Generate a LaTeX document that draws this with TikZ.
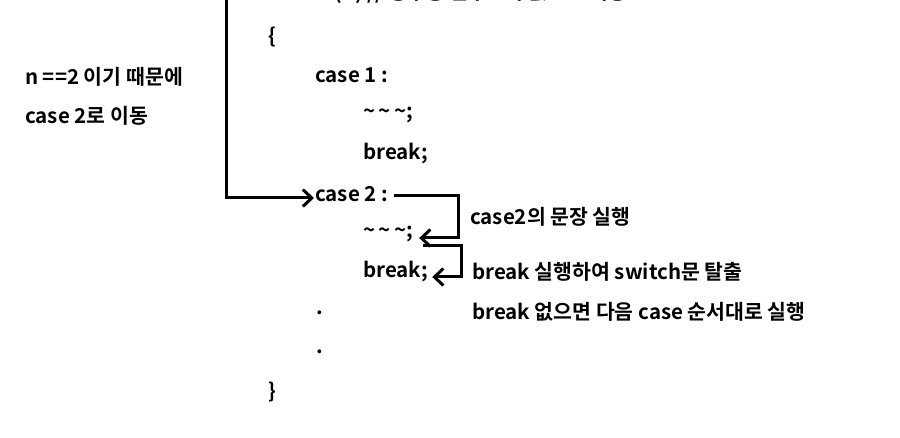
\documentclass[tikz,border=0pt]{standalone}
\usepackage{fontspec}
\setmainfont{Noto Sans CJK KR}[BoldFont={Noto Sans CJK KR Bold}]
\usetikzlibrary{arrows.meta}
\tikzset{>={Straight Barb[length=9pt,width=17pt]},
  code/.style={anchor=west, inner sep=0pt, font=\bfseries\fontsize{20.5}{24}\selectfont},
  flow/.style={->, line width=3pt}}

\begin{document}
\begin{tikzpicture}[x=1pt, y=-1pt]
    \useasboundingbox[fill=white] (0,0) rectangle (900,438);
    % code lines
    \node[code] (sw) at (268,-7) {switch(n) // 정수형 변수 n의 값으로 이동};
    \node[code] (ob) at (268,37) {\{};
    \node[code] (c1) at (315,75) {case 1 :};
    \node[code] (t1) at (363,115) {\char`\~\,\char`\~\,\char`\~;};
    \node[code] (b1) at (363,154) {break;};
    \node[code] (c2) at (315,194) {case 2 :};
    \node[code] (t2) at (363,234) {\char`\~\,\char`\~\,\char`\~;};
    \node[code] (b2) at (363,272) {break;};
    \node[code] (d1) at (316,313) {.};
    \node[code] (d2) at (316,352) {.};
    \node[code] (cb) at (268,392) {\}};
    % notes
    \node[code] (n1) at (25,77) {n ==2 이기 때문에};
    \node[code] (n2) at (25,116) {case 2로 이동};
    \node[code] (r1) at (470,217) {case2의 문장 실행};
    \node[code] (r2) at (472,272) {break 실행하여 switch문 탈출};
    \node[code] (r3) at (472,312) {break 없으면 다음 case 순서대로 실행};
    % arrows
    \coordinate (top) at (226,-10);
    \draw[flow] (top) |- ([shift={(-1,4)}]c2.west);
    \draw[flow] ([shift={(6,2)}]c2.east) -- ++(64,0) |- ([shift={(6,4)}]t2.east);
    \draw[flow] ([shift={(10,12)}]t2.east) -- ++(38,0) |- ([shift={(4,5)}]b2.east);
\end{tikzpicture}
\end{document}
